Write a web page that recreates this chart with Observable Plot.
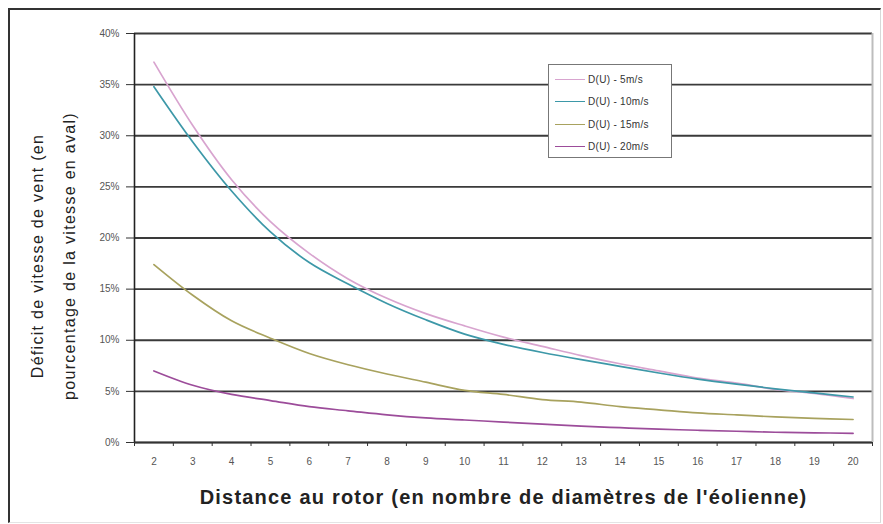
<!DOCTYPE html>
<html><head><meta charset="utf-8">
<script src="https://cdn.jsdelivr.net/npm/d3@7"></script>
<script src="https://cdn.jsdelivr.net/npm/@observablehq/plot@0.6"></script>
<style>
body{margin:0;background:#fff;font-family:Arial,"Liberation Sans",sans-serif;}
#wrap{position:relative;width:883px;height:524px;overflow:hidden;background:#fff;}
#wrap svg{position:absolute;left:0;top:0;}
#frame{position:absolute;left:8px;top:8px;width:870px;height:512px;border-left:2px solid #333;border-top:2px solid #333;border-right:1px solid #d8d8d8;border-bottom:1px solid #e4e4e4;pointer-events:none;}
#legend{position:absolute;left:548px;top:64px;width:124px;height:94px;border:1px solid #777;background:#fff;font-size:10px;color:#333;box-sizing:border-box;padding-top:3px;letter-spacing:0.3px;}
#legend .row{display:flex;align-items:center;height:22.5px;}
#legend .sw{width:30px;height:0;border-top:1.5px solid #000;margin-left:6px;margin-right:3px;}
</style></head>
<body>
<div id="wrap"><div id="frame"></div></div>
<script>
// ---- data ----
const distances = [2,3,4,5,6,7,8,9,10,11,12,13,14,15,16,17,18,19,20];
const deficit5  = [37.2,31.0,25.7,21.6,18.5,16.0,14.1,12.6,11.4,10.3,9.4,8.5,7.7,7.0,6.3,5.8,5.2,4.8,4.3];
const deficit10 = [34.8,29.4,24.6,20.6,17.6,15.5,13.6,12.0,10.6,9.6,8.8,8.1,7.45,6.8,6.2,5.7,5.25,4.85,4.45];
const deficit15 = [17.4,14.4,11.9,10.2,8.7,7.6,6.7,5.9,5.1,4.7,4.2,3.95,3.5,3.2,2.9,2.7,2.5,2.35,2.25];
const deficit20 = [7.0,5.6,4.7,4.1,3.5,3.1,2.7,2.4,2.2,2.0,1.8,1.6,1.45,1.3,1.2,1.1,1.0,0.95,0.9];
const seriesNames = ["D(U) - 5m/s","D(U) - 10m/s","D(U) - 15m/s","D(U) - 20m/s"];
const seriesColors = ["#d8a4cf","#3d98a8","#a8a25e","#9c4c9a"];
const yTicks = [0,5,10,15,20,25,30,35,40];
const yTitle = "Déficit de vitesse de vent (en\npourcentage de la vitesse en aval)";
const xTitle = "Distance au rotor (en nombre de diamètres de l'éolienne)";

const allSeries = [deficit5, deficit10, deficit15, deficit20];
const rows = [];
allSeries.forEach((vals, s) => vals.forEach((v, i) => rows.push({x: distances[i], y: v, s: seriesNames[s]})));
const xDomain = [distances[0] - 0.5, distances[distances.length - 1] + 0.5];
const boundaries = d3.range(xDomain[0], xDomain[1] + 0.01, 1);

const chart = Plot.plot({
  width: 883, height: 524,
  marginLeft: 134, marginRight: 11, marginTop: 33, marginBottom: 82,
  x: {type: "linear", domain: xDomain},
  y: {domain: [0, 40]},
  color: {domain: seriesNames, range: seriesColors},
  style: {fontFamily: "Arial, 'Liberation Sans', sans-serif", fontSize: "10px", color: "#444", background: "transparent"},
  marks: [
    Plot.gridY({ticks: yTicks, stroke: "#3a3a3a", strokeOpacity: 1, strokeWidth: 1.8}),
    Plot.ruleX([xDomain[1]], {stroke: "#bdbdbd", strokeWidth: 2}),
    Plot.axisY({ticks: yTicks, tickSize: 8, tickPadding: 7, tickFormat: d => d + "%", label: null, stroke: "#333", fill: "#555"}),
    Plot.axisX({ticks: boundaries, tickSize: 4, tickFormat: () => "", label: null, stroke: "#333"}),
    Plot.axisX({ticks: distances, tickSize: 0, tickPadding: 15, tickFormat: d => d, label: null, fill: "#555"}),
    Plot.ruleX([xDomain[0]], {stroke: "#222", strokeWidth: 1.6}),
    Plot.ruleY([0], {stroke: "#333", strokeWidth: 1.6}),
    Plot.lineY(rows, {x: "x", y: "y", z: "s", stroke: "s", strokeWidth: 1.7, curve: "catmull-rom"}),
    Plot.text([yTitle], {frameAnchor: "left", textAnchor: "middle", rotate: -90, dx: -86, dy: 18, fontSize: 16, lineHeight: 2.0, fill: "#222"}),
    Plot.text([xTitle], {frameAnchor: "bottom", textAnchor: "middle", dy: 61, fontSize: 20, fontWeight: "bold", fill: "#222"})
  ]
});
// widen the titles like the reference
d3.select(chart).selectAll("text").each(function() {
  const t = this.textContent;
  if (t.startsWith("Distance")) this.style.letterSpacing = "1.2px";
  else if (t.includes("Déficit") || t.includes("pourcentage")) this.style.letterSpacing = "1.3px";
});
document.getElementById("wrap").prepend(chart);

const legend = document.createElement("div");
legend.id = "legend";
seriesNames.forEach((n, i) => {
  const r = document.createElement("div"); r.className = "row";
  const sw = document.createElement("span"); sw.className = "sw"; sw.style.borderTopColor = seriesColors[i];
  const t = document.createElement("span"); t.textContent = n;
  r.append(sw, t); legend.append(r);
});
document.getElementById("wrap").append(legend);
</script>
</body></html>
